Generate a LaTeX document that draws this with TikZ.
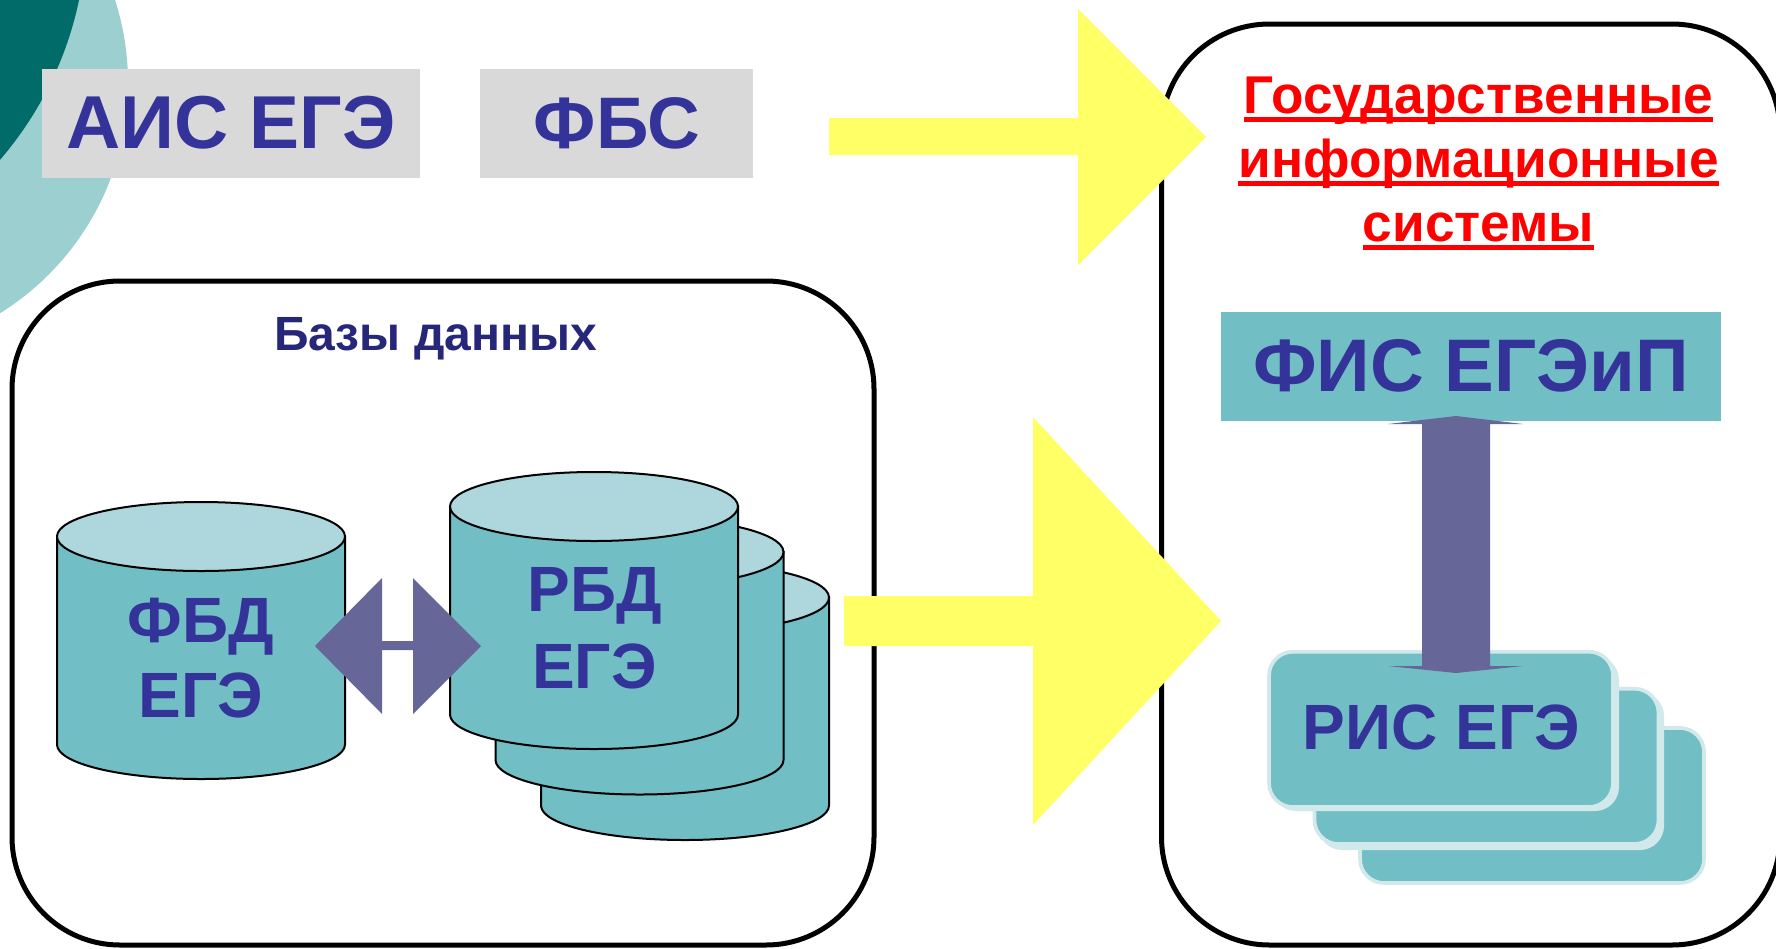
\documentclass[tikz,border=0pt]{standalone}
\usepackage{fontspec}
\setmainfont{Liberation Sans}[Ligatures=NoCommon]
\definecolor{tealbody}{HTML}{72BEC5}
\definecolor{tealtop}{HTML}{ADD7DD}
\definecolor{tealedge}{HTML}{D2E9EC}
\definecolor{tealcircle}{HTML}{9CCFD0}
\definecolor{tealdark}{HTML}{006B68}
\definecolor{greybox}{HTML}{D9D9D9}
\definecolor{arrowyellow}{HTML}{FFFF66}
\definecolor{arrowpurple}{HTML}{666699}
\definecolor{labelblue}{HTML}{333399}
\definecolor{labelnavy}{HTML}{27277A}
\newcommand{\ulx}[1]{\setbox0\hbox{#1}\rlap{\rule[-8.7pt]{\wd0}{4.8pt}}\box0}
\tikzset{
  frame/.style={draw=black,line width=5pt,rounded corners=108pt},
  bigtxt/.style={anchor=base,inner sep=0pt,text=labelblue,font=\fontsize{75}{80}\selectfont\bfseries},
  midtxt/.style={anchor=base,inner sep=0pt,text=labelblue,font=\fontsize{64}{70}\selectfont\bfseries,align=center},
  redtxt/.style={anchor=base,inner sep=0pt,text=red,font=\fontsize{53.2}{60}\selectfont\bfseries},
  yarrow/.style={fill=arrowyellow,draw=none},
  parrow/.style={fill=arrowpurple,draw=none},
  cyl/.pic={
    \fill[tealbody,draw=black,line width=2pt] (0,34.5) -- (0,242.5) arc[start angle=180,end angle=0,x radius=144,y radius=34.5] -- (288,34.5) -- cycle;
    \fill[tealtop,draw=black,line width=2pt] (144,34.5) ellipse[x radius=144,y radius=34.5];
  },
  cardbox/.style={fill=tealbody,draw=tealedge,line width=3.7pt,rounded corners=24pt},
  cardshadow/.style={fill=tealedge,rounded corners=24pt},
}
\begin{document}
\begin{tikzpicture}[x=1pt,y=-1pt]
\clip (0,0) rectangle (1776,948);
\fill[white] (0,0) rectangle (1776,948);
% corner circles
\fill[tealcircle] (-143,83) circle[radius=271];
\fill[tealdark] (-272,-74) circle[radius=358.7];
% grey title boxes
\fill[greybox] (42,69) rectangle (420,178);
\fill[greybox] (480,69) rectangle (753,178);
\node[bigtxt] (ais) at (231,148) {АИС ЕГЭ};
\node[bigtxt,font=\fontsize{73}{80}\selectfont\bfseries] (fbs) at (617,148) {ФБС};
% frames
\draw[frame] (12,281) rectangle (874,945);
\draw[frame] (1161.5,24) rectangle (1780,945);
\node[anchor=base,inner sep=0pt,text=labelnavy,font=\fontsize{48}{52}\selectfont\bfseries] (bases) at (435.5,350) {Базы данных};
% cylinders
\pic at (541,563) {cyl};
\pic at (495.5,517.5) {cyl};
\pic at (450,472) {cyl};
\pic at (57,502) {cyl};
\node[midtxt] (rbd1) at (594.5,611) {РБД};
\node[midtxt] (rbd2) at (594.5,688) {ЕГЭ};
\node[midtxt] (fbd1) at (201,642) {ФБД};
\node[midtxt] (fbd2) at (201,717) {ЕГЭ};
% horizontal double arrow
\fill[parrow] (315,646) -- (382,578) -- (382,641) -- (413,641) -- (413,578) -- (481,646) -- (413,714) -- (413,650) -- (382,650) -- (382,714) -- cycle;
% yellow arrows
\fill[yarrow] (829,118) -- (1078,118) -- (1078,9) -- (1206,137) -- (1078,265) -- (1078,155) -- (829,155) -- cycle;
\fill[yarrow] (844,596) -- (1033,596) -- (1033,417) -- (1221,621) -- (1033,825) -- (1033,646) -- (844,646) -- cycle;
% red heading
\node[redtxt] (g1) at (1478.5,113.5) {\ulx{Государственные}};
\node[redtxt] (g2) at (1478.5,177) {\ulx{информационные}};
\node[redtxt] (g3) at (1478.5,241) {\ulx{системы}};
% FIS box
\fill[tealbody] (1221,311.5) rectangle (1720.5,420.5);
\node[bigtxt,font=\fontsize{74.5}{80}\selectfont\bfseries] (fis) at (1471,391) {ФИС ЕГЭиП};
% RIS cards
\filldraw[cardbox] (1360,728) rectangle (1704,883);
\fill[cardshadow] (1318,692) rectangle (1664,850);
\filldraw[cardbox] (1314.5,688.7) rectangle (1658.5,844);
\fill[cardshadow] (1272,656) rectangle (1619,811);
\filldraw[cardbox] (1269,651.7) rectangle (1613,807);
\node[midtxt] (ris) at (1441.5,749.5) {РИС ЕГЭ};
% vertical double arrow
\fill[parrow] (1456,416) -- (1523,424) -- (1490,424) -- (1490,666) -- (1523,666) -- (1456,673) -- (1388,666) -- (1422,666) -- (1422,424) -- (1388,424) -- cycle;
\end{tikzpicture}
\end{document}
